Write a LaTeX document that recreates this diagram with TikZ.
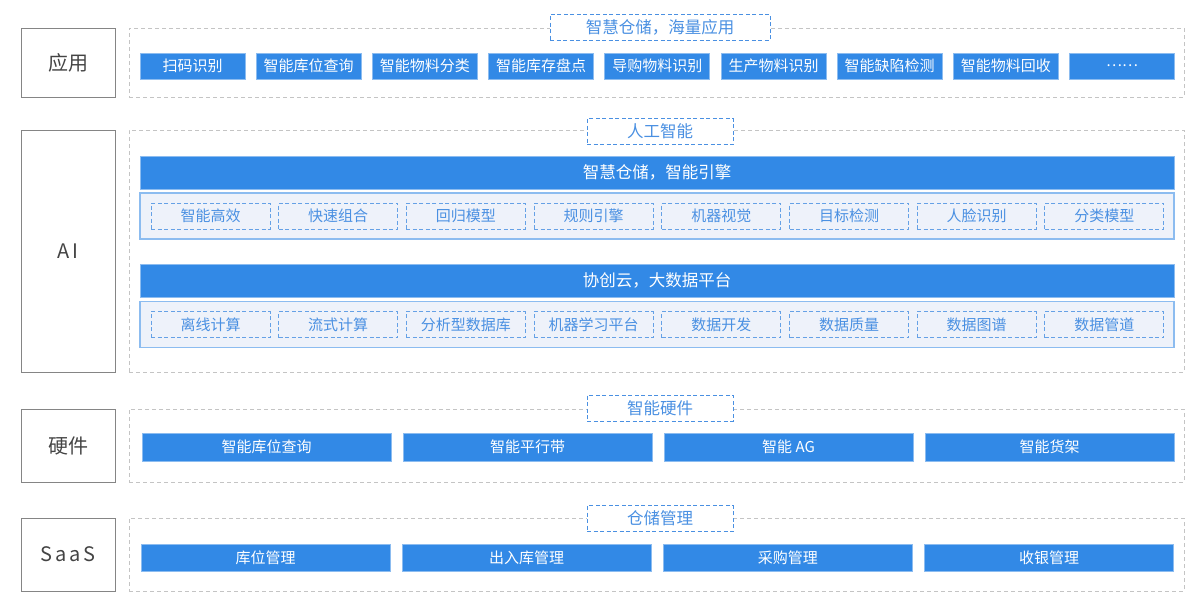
\documentclass[tikz,border=0pt]{standalone}
\usepackage{fontspec}
\setmainfont{Noto Sans CJK SC}
\newfontfamily\spacedfont[LetterSpace=14]{Noto Sans CJK SC}
\definecolor{mainblue}{HTML}{3289E6}
\definecolor{edgeblue}{HTML}{8CBCF0}
\definecolor{tagblue}{HTML}{4A90E2}
\definecolor{panelfill}{HTML}{EEF2FA}
\definecolor{zonegray}{HTML}{C4C4C4}
\definecolor{layergray}{HTML}{858585}
\definecolor{labelgray}{HTML}{444444}

\begin{document}
\begin{tikzpicture}[x=1pt,y=-1pt,
	layer_node/.style={draw=layergray,line width=1pt,minimum width=94pt,text=labelgray,font=\fontsize{20}{22}\selectfont},
	zone_node/.style={draw=zonegray,line width=0.9pt,dash pattern=on 4pt off 3pt,minimum width=1055pt},
	tag_node/.style={draw=tagblue,fill=white,line width=0.9pt,dash pattern=on 4pt off 2.5pt,minimum height=26pt,text=tagblue,font=\fontsize{16.5}{18}\selectfont},
	item_node/.style={fill=mainblue,draw=edgeblue,line width=1pt,minimum height=26pt,inner sep=0pt,text=white,font=\fontsize{15}{16}\selectfont},
	bar_node/.style={fill=mainblue,draw=edgeblue,line width=1pt,minimum width=1034pt,minimum height=33pt,text=white,font=\fontsize{16.5}{18}\selectfont},
	panel_node/.style={fill=panelfill,draw=edgeblue,line width=1.2pt,minimum width=1034pt,minimum height=46pt},
	chip_node/.style={draw=tagblue!85,line width=0.9pt,dash pattern=on 4pt off 2.5pt,minimum width=119pt,minimum height=26pt,inner sep=0pt,text=tagblue,font=\fontsize{15}{16}\selectfont}]

	\useasboundingbox (0,0) rectangle (1200,606);

	% left layer boxes
	\node[layer_node,minimum height=69pt] (app) at (68,62.5) {应用};
	\node[layer_node,minimum height=242pt] (ai) at (68,251) {\spacedfont AI};
	\node[layer_node,minimum height=73pt] (hw) at (68,445.5) {硬件};
	\node[layer_node,minimum height=73pt] (saas) at (68,554.5) {\spacedfont SaaS};

	% dashed zones
	\node[zone_node,minimum height=69pt] (appzone) at (656.5,62.5) {};
	\node[zone_node,minimum height=242pt] (aizone) at (656.5,251) {};
	\node[zone_node,minimum height=73pt] (hwzone) at (656.5,445.5) {};
	\node[zone_node,minimum height=73pt] (saaszone) at (656.5,554.5) {};

	% zone titles
	\node[tag_node,minimum width=220pt] (apptag) at (660,27) {智慧仓储，海量应用};
	\node[tag_node,minimum width=146pt] (aitag) at (660,131.5) {人工智能};
	\node[tag_node,minimum width=146pt] (hwtag) at (660,408) {智能硬件};
	\node[tag_node,minimum width=146pt] (saastag) at (660,518.5) {仓储管理};

	% applications
	\foreach \name [count=\i] in {扫码识别,智能库位查询,智能物料分类,智能库存盘点,导购物料识别,生产物料识别,智能缺陷检测,智能物料回收,……}
		\node[item_node,minimum width=105pt] (app\i) at ({192.5+(\i-1)*116.2},66) {\name};

	% AI engine
	\node[bar_node] (engine) at (657,172.5) {智慧仓储，智能引擎};
	\node[panel_node] (enginepanel) at (657,216) {};
	\foreach \name [count=\i] in {智能高效,快速组合,回归模型,规则引擎,机器视觉,目标检测,人脸识别,分类模型}
		\node[chip_node] (eng\i) at ({210.5+(\i-1)*127.7},216) {\name};

	% data platform
	\node[bar_node] (cloud) at (657,280.5) {协创云，大数据平台};
	\node[panel_node] (cloudpanel) at (657,324.5) {};
	\foreach \name [count=\i] in {离线计算,流式计算,分析型数据库,机器学习平台,数据开发,数据质量,数据图谱,数据管道}
		\node[chip_node] (data\i) at ({210.5+(\i-1)*127.7},324.5) {\name};

	% hardware
	\foreach \name [count=\i] in {智能库位查询,智能平行带,智能 AG,智能货架}
		\node[item_node,minimum width=249pt,minimum height=28pt] (dev\i) at ({266.5+(\i-1)*261},447) {\name};

	% SaaS
	\foreach \name [count=\i] in {库位管理,出入库管理,采购管理,收银管理}
		\node[item_node,minimum width=249pt,minimum height=27pt] (mgmt\i) at ({265.5+(\i-1)*261.2},557.5) {\name};
\end{tikzpicture}
\end{document}
